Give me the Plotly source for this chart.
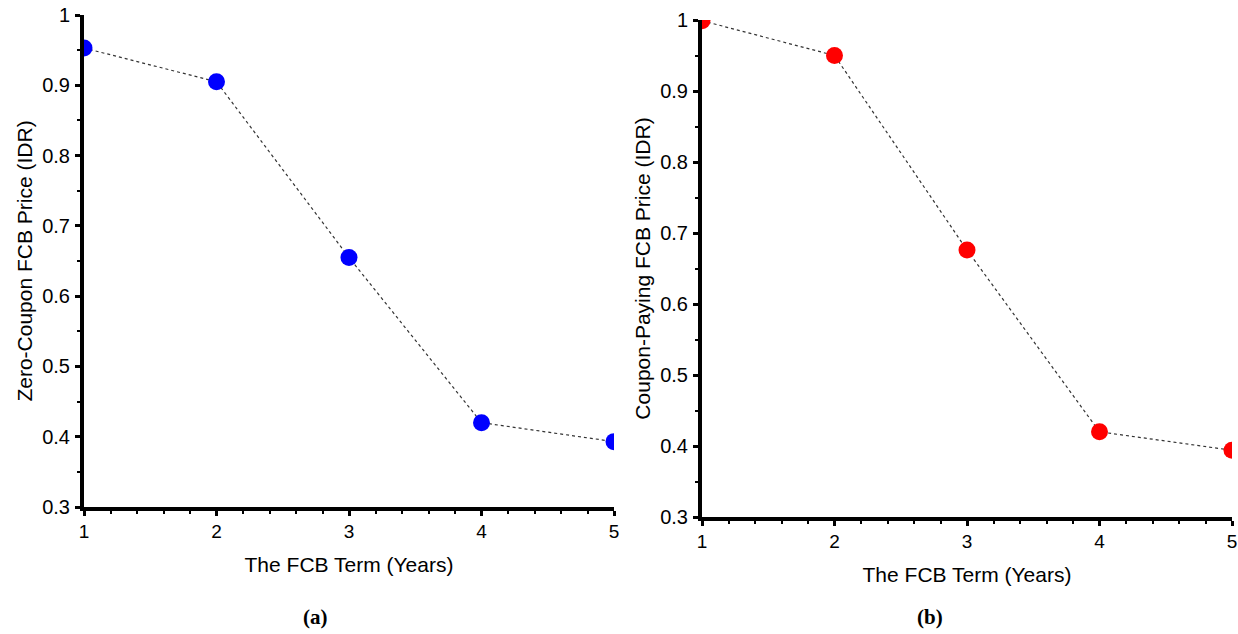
import plotly.graph_objects as go

terms = [1, 2, 3, 4, 5]
zero_coupon_price = [0.953, 0.905, 0.655, 0.420, 0.393]
coupon_paying_price = [0.999, 0.950, 0.676, 0.420, 0.394]
y_ticks = [0.3, 0.4, 0.5, 0.6, 0.7, 0.8, 0.9, 1]
y_tick_labels = ["0.3", "0.4", "0.5", "0.6", "0.7", "0.8", "0.9", "1"]
x_ticks = [1, 2, 3, 4, 5]
panel_labels = ["(a)", "(b)"]
y_titles = ["Zero-Coupon FCB Price (IDR)", "Coupon-Paying FCB Price (IDR)"]
x_title = "The FCB Term (Years)"

W, H = 1238, 634
FONT = "Liberation Sans, Arial, sans-serif"

fig = go.Figure()
fig.add_trace(go.Scatter(x=terms, y=zero_coupon_price, mode="lines+markers",
                         line=dict(color="#333333", width=1.2, dash="dot"),
                         marker=dict(color="#0000ff", size=17),
                         xaxis="x", yaxis="y", showlegend=False))
fig.add_trace(go.Scatter(x=terms, y=coupon_paying_price, mode="lines+markers",
                         line=dict(color="#333333", width=1.2, dash="dot"),
                         marker=dict(color="#ff0000", size=17),
                         xaxis="x2", yaxis="y2", showlegend=False))

def xax(l, r, anchor):
    return dict(domain=[l / W, r / W], range=[1, 5], tickvals=x_ticks, anchor=anchor,
                automargin=False, ticklabeloverflow="allow", ticklabelstandoff=-1,
                showline=True, linecolor="black", linewidth=4, showgrid=False,
                zeroline=False, ticks="outside", ticklen=5, tickwidth=3, tickcolor="black",
                minor=dict(dtick=0.2, ticks="outside", ticklen=3, tickwidth=2, tickcolor="black", showgrid=False),
                tickfont=dict(family=FONT, size=19, color="black"),
                title=dict(text=x_title, font=dict(family=FONT, size=21, color="black"), standoff=18))

def yax(t, b, title, anchor):
    return dict(domain=[1 - b / H, 1 - t / H], range=[0.3, 1], tickvals=y_ticks, ticktext=y_tick_labels,
                anchor=anchor, automargin=False, ticklabeloverflow="allow", ticklabelstandoff=1,
                showline=True, linecolor="black", linewidth=4, showgrid=False,
                zeroline=False, ticks="outside", ticklen=5, tickwidth=3, tickcolor="black",
                minor=dict(dtick=0.05, ticks="outside", ticklen=3, tickwidth=2, tickcolor="black", showgrid=False),
                tickfont=dict(family=FONT, size=20, color="black"),
                title=dict(text=title, font=dict(family=FONT, size=21, color="black"), standoff=5))

fig.update_layout(
    width=W, height=H, margin=dict(l=0, r=0, t=0, b=0, autoexpand=False),
    plot_bgcolor="white", paper_bgcolor="white",
    xaxis=xax(84, 614, "y"), yaxis=yax(15, 507, y_titles[0], "x"),
    xaxis2=xax(702, 1232, "y2"), yaxis2=yax(20, 517, y_titles[1], "x2"),
)

for lbl, cx in zip(panel_labels, [315, 930]):
    fig.add_annotation(text="<b>" + lbl + "</b>", x=cx / W, y=1 - 617 / H, xref="paper", yref="paper",
                       xanchor="center", yanchor="middle", showarrow=False,
                       font=dict(family="Liberation Serif, Times New Roman, serif", size=21, color="black"))

fig.write_html("out.html", config={"displayModeBar": False},
               post_script="document.body.style.margin='0';document.body.style.overflow='hidden';")
